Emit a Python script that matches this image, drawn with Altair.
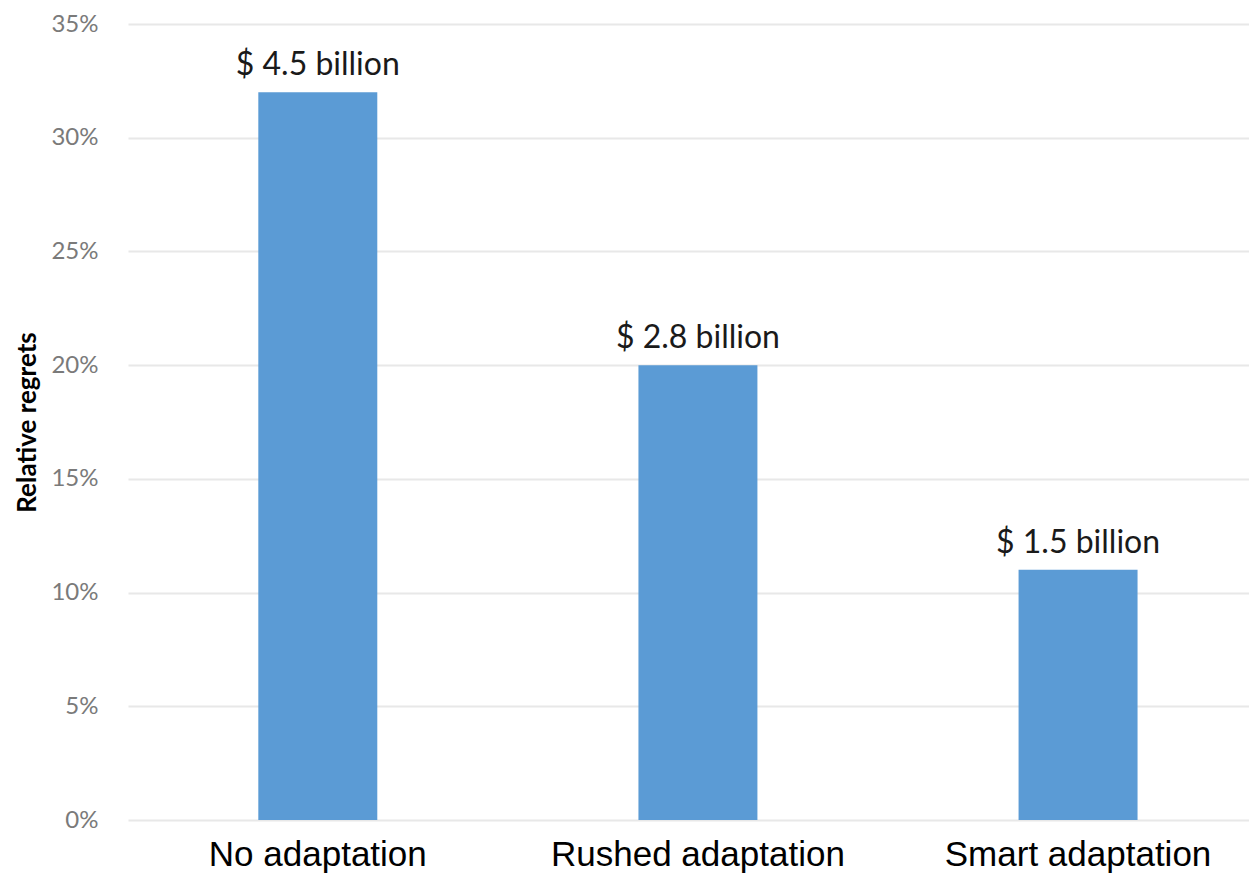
import altair as alt
import pandas as pd

categories = ["No adaptation", "Rushed adaptation", "Smart adaptation"]
regrets = [0.32, 0.20, 0.11]
cost_labels = ["$ 4.5 billion", "$ 2.8 billion", "$ 1.5 billion"]
y_ticks = [0, 0.05, 0.10, 0.15, 0.20, 0.25, 0.30, 0.35]

df = pd.DataFrame({"cat": categories, "val": regrets, "lab": cost_labels})

x_enc = alt.X(
    "cat:N",
    sort=categories,
    title=None,
    scale=alt.Scale(paddingInner=0.687, paddingOuter=0.318, align=0.539),
    axis=alt.Axis(
        labelAngle=0,
        labelFont="Liberation Sans",
        labelFontSize=35,
        labelColor="#000000",
        labelPadding=17,
        labelLimit=0,
        domain=False,
        ticks=False,
        grid=False,
    ),
)

y_enc = alt.Y(
    "val:Q",
    title="Relative regrets",
    scale=alt.Scale(domain=[0, 0.35], nice=False),
    axis=alt.Axis(
        values=y_ticks,
        format=".0%",
        labelFont="Lato",
        labelFontSize=24,
        labelColor="#7a7a7a",
        labelPadding=30,
        domain=False,
        ticks=False,
        grid=True,
        gridColor="#e8e8e8",
        gridWidth=2,
        titleFont="Lato",
        titleFontSize=26,
        titleFontWeight="bold",
        titleColor="#000000",
        titlePadding=10,
    ),
)

bars = alt.Chart(df).mark_bar(color="#5B9BD5").encode(x=x_enc, y=y_enc)

texts = alt.Chart(df).mark_text(
    baseline="alphabetic", dy=-17, font="Lato", fontSize=32, color="#1a1a1a"
).encode(x=alt.X("cat:N", sort=categories), y="val:Q", text="lab:N")

chart = (
    alt.layer(bars, texts)
    .properties(
        width=1121,
        height=796,
        background="#ffffff",
        autosize=alt.AutoSizeParams(type="none"),
        padding={"left": 120, "top": 16, "right": 0, "bottom": 54},
    )
    .configure_view(strokeWidth=0, stroke="transparent")
)

chart.save("out.html", embed_options={"renderer": "svg", "actions": False})
